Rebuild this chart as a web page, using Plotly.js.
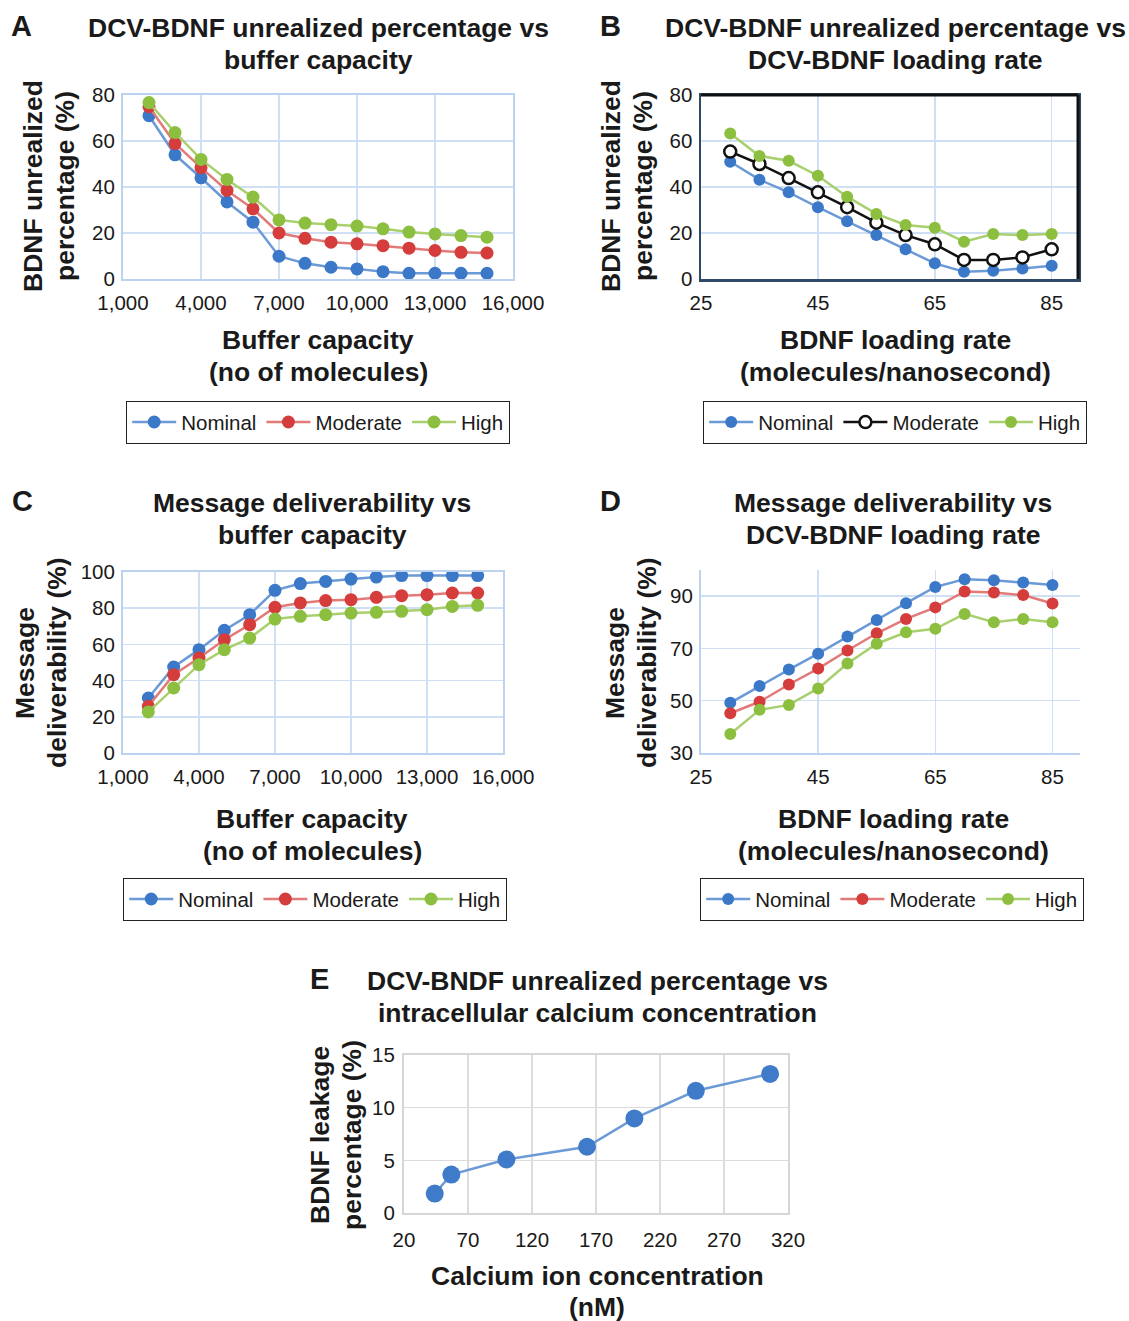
<!DOCTYPE html>
<html><head><meta charset="utf-8">
<script src="https://cdn.plot.ly/plotly-3.0.1.min.js"></script>
<style>html,body{margin:0;padding:0;background:#fff;}#chart{width:1129px;height:1321px;}</style>
</head><body><div id="chart"></div>
<script>
// ---- Data ----
const bufferCap = [2000,3000,4000,5000,6000,7000,8000,9000,10000,11000,12000,13000,14000,15000];
const aNominal  = [71,54,44,33.5,24.7,9.9,6.8,5.1,4.4,3.2,2.5,2.5,2.5,2.5];
const aModerate = [74.9,58.9,48.4,38.5,30.5,20,17.7,16,15.3,14.5,13.4,12.4,11.6,11.3];
const aHigh     = [76.7,63.7,52,43.3,35.6,25.7,24.3,23.6,23,21.8,20.4,19.6,18.9,18.2];

const loadRate  = [30,35,40,45,50,55,60,65,70,75,80,85];
const bNominal  = [51,43.2,37.7,31.2,25.1,19.1,12.9,6.8,3.2,3.6,4.6,5.8];
const bModerate = [55.4,50,43.9,37.7,31.2,24.5,19.1,15.1,8.3,8.3,9.4,12.9];
const bHigh     = [63.3,53.5,51.4,44.9,35.8,28.3,23.5,22.3,16.2,19.6,19.1,19.6];

const cNominal  = [30.4,47.5,57.1,67.8,76.4,89.9,93.6,94.8,96.1,97.2,98,98,98,98];
const cModerate = [25.8,43.3,52.5,62.6,70.9,80.5,82.9,84.2,84.7,86,86.9,87.5,88.4,88.4];
const cHigh     = [22.7,35.9,48.8,57.1,63.5,74,75.5,76.4,77.3,77.7,78.3,79.2,81,81.6];

const dNominal  = [49.2,55.6,61.9,68,74.6,80.9,87.3,93.5,96.5,96.1,95.2,94.3];
const dModerate = [45.2,49.6,56.2,62.3,69.2,75.8,81.3,85.7,91.8,91.4,90.4,87.2];
const dHigh     = [37.3,46.5,48.4,54.7,64.2,71.8,76.2,77.5,83.2,80,81.3,80];

const calcium   = [44,57,100,163,200,248,306];
const leakage   = [1.84,3.65,5.08,6.29,8.98,11.6,13.2];

const seriesNames = ['Nominal','Moderate','High'];

// ---- Styling ----
const W = 1129, H = 1321;
const FONT = 'Arial, "Liberation Sans", Helvetica, sans-serif';
const BLUE_M = '#3b78c8', BLUE_L = '#6b9ad6';
const RED_M = '#d43d3b', RED_L = '#e27a78';
const GREEN_M = '#8cbf40', GREEN_L = '#a8d06e';
const GRID_B = '#cfe0f4', LINE_B = '#bcd3ef';

function px(x){return x/W;}
function py(y){return 1 - y/H;}

function tr(x, y, name, xa, ya, mc, lc, leg, size, extra){
  const t = {x:x, y:y, name:name, type:'scatter', mode:'lines+markers',
    xaxis:xa, yaxis:ya, legend:leg,
    line:{color:lc, width:2.5},
    marker:{color:mc, size:size, line:{width:0}},
    showlegend: leg !== null};
  if (leg === null) { delete t.legend; t.showlegend = false; }
  return Object.assign(t, extra||{});
}

const traces = [
  tr(bufferCap, aNominal, seriesNames[0], 'x', 'y', BLUE_M, BLUE_L, 'legend', 13),
  tr(bufferCap, aModerate, seriesNames[1], 'x', 'y', RED_M, RED_L, 'legend', 13),
  tr(bufferCap, aHigh, seriesNames[2], 'x', 'y', GREEN_M, GREEN_L, 'legend', 13),

  tr(loadRate, bNominal, seriesNames[0], 'x2', 'y2', BLUE_M, BLUE_L, 'legend2', 12),
  tr(loadRate, bModerate, seriesNames[1], 'x2', 'y2', '#ffffff', '#111111', 'legend2', 12,
     {marker:{color:'#ffffff', size:12, line:{color:'#111111', width:2.5}}}),
  tr(loadRate, bHigh, seriesNames[2], 'x2', 'y2', GREEN_M, GREEN_L, 'legend2', 12),

  tr(bufferCap, cNominal, seriesNames[0], 'x3', 'y3', BLUE_M, BLUE_L, 'legend3', 13),
  tr(bufferCap, cModerate, seriesNames[1], 'x3', 'y3', RED_M, RED_L, 'legend3', 13),
  tr(bufferCap, cHigh, seriesNames[2], 'x3', 'y3', GREEN_M, GREEN_L, 'legend3', 13),

  tr(loadRate, dNominal, seriesNames[0], 'x4', 'y4', BLUE_M, BLUE_L, 'legend4', 12),
  tr(loadRate, dModerate, seriesNames[1], 'x4', 'y4', RED_M, RED_L, 'legend4', 12),
  tr(loadRate, dHigh, seriesNames[2], 'x4', 'y4', GREEN_M, GREEN_L, 'legend4', 12),

  tr(calcium, leakage, 'Leakage', 'x5', 'y5', '#3f7bc9', '#6b9ad6', null, 18)
];

const tickFont = {family:FONT, size:20.5, color:'#1a1a1a'};

function xax(d, range, dtick, opts){
  return Object.assign({domain:d, range:range, tick0:range[0], dtick:dtick, tickfont:tickFont,
    showgrid:true, gridcolor:GRID_B, gridwidth:1.5, zeroline:false,
    showline:true, linecolor:LINE_B, linewidth:2, ticks:'', ticklabelstandoff:4, fixedrange:true}, opts||{});
}
function yax(d, range, dtick, anchor, opts){
  return Object.assign({domain:d, range:range, tick0:range[0], dtick:dtick, tickfont:tickFont,
    showgrid:true, gridcolor:GRID_B, gridwidth:1.5, zeroline:false, anchor:anchor,
    showline:true, linecolor:LINE_B, linewidth:2, ticks:'', ticklabelstandoff:2, fixedrange:true}, opts||{});
}

const yA = [py(279), py(95)];
const yC = [py(753), py(572)];
const yD = [py(753), py(570)];
const yE = [py(1213), py(1055)];

const layout = {
  width:W, height:H, margin:{l:0,r:0,t:0,b:0},
  paper_bgcolor:'#ffffff', plot_bgcolor:'#ffffff',
  font:{family:FONT, color:'#1a1a1a'},
  xaxis: xax([px(123), px(513)], [1000,16000], 3000, {anchor:'y', tickformat:',d', mirror:true}),
  yaxis: yax(yA, [0,80], 20, 'x', {mirror:true}),
  xaxis2: xax([px(701), px(1078)], [25,89.5], 20, {anchor:'y2', mirror:true, linecolor:'#2f4a66', linewidth:2.5}),
  yaxis2: yax(yA, [0,80], 20, 'x2', {mirror:true, linecolor:'#2f4a66', linewidth:2.5}),
  xaxis3: xax([px(123), px(503)], [1000,16000], 3000, {anchor:'y3', tickformat:',d', mirror:true}),
  yaxis3: yax(yC, [0,100], 20, 'x3', {mirror:true}),
  xaxis4: xax([px(701), px(1080)], [25,89.7], 20, {anchor:'y4'}),
  yaxis4: yax(yD, [30,100], 20, 'x4'),
  xaxis5: xax([px(404), px(788)], [20,320], 50, {anchor:'y5', gridcolor:'#dcdcdc', linecolor:'#d6d6d6', mirror:true, ticklabelstandoff:7}),
  yaxis5: yax(yE, [0,15], 5, 'x5', {gridcolor:'#dcdcdc', linecolor:'#d6d6d6', mirror:true, ticklabelstandoff:3}),
  annotations: [],
  shapes: []
};

// Border for B: top and right darker black
layout.shapes.push({type:'line', xref:'paper', yref:'paper', x0:px(701), x1:px(1078), y0:py(95), y1:py(95), line:{color:'#111', width:3}});
layout.shapes.push({type:'line', xref:'paper', yref:'paper', x0:px(1078), x1:px(1078), y0:py(95), y1:py(279), line:{color:'#111', width:3}});

function legendDef(cx, top){
  return {orientation:'h', x:px(cx), xanchor:'center', y:py(top), yanchor:'top',
    bordercolor:'#222', borderwidth:1.2, bgcolor:'#ffffff',
    font:{family:FONT, size:20.5, color:'#1a1a1a'}, itemwidth:44, tracegroupgap:0};
}
layout.legend = legendDef(318, 401);
layout.legend2 = legendDef(895, 401);
layout.legend3 = legendDef(315, 878);
layout.legend4 = legendDef(892, 878);

function ann(text, x, y, size, opts){
  layout.annotations.push(Object.assign({text:text, x:px(x), y:py(y), xref:'paper', yref:'paper',
    showarrow:false, xanchor:'center', yanchor:'middle',
    font:{family:FONT, size:size, color:'#1a1a1a'}}, opts||{}));
}
const TS = 26.5;
// panel letters
ann('<b>A</b>', 21, 26, 29);
ann('<b>B</b>', 610, 26, 29);
ann('<b>C</b>', 22, 501, 29);
ann('<b>D</b>', 610, 501, 29);
ann('<b>E</b>', 319, 979, 29);
// two-line titles
function two(l1, l2, cx, y1, y2, rot){
  if (rot) {
    ann('<b>'+l1+'</b>', y1, cx, TS, {textangle:-90});
    ann('<b>'+l2+'</b>', y2, cx, TS, {textangle:-90});
  } else {
    ann('<b>'+l1+'</b>', cx, y1, TS);
    ann('<b>'+l2+'</b>', cx, y2, TS);
  }
}
two('DCV-BDNF unrealized percentage vs', 'buffer capacity', 318, 28, 60);
two('DCV-BDNF unrealized percentage vs', 'DCV-BDNF loading rate', 895, 28, 60);
two('Message deliverability vs', 'buffer capacity', 312, 503, 535);
two('Message deliverability vs', 'DCV-BDNF loading rate', 893, 503, 535);
two('DCV-BNDF unrealized percentage vs', 'intracellular calcium concentration', 597, 981, 1013);
// x axis titles
two('Buffer capacity', '(no of molecules)', 318, 340, 372);
two('BDNF loading rate', '(molecules/nanosecond)', 895, 340, 372);
two('Buffer capacity', '(no of molecules)', 312, 819, 851);
two('BDNF loading rate', '(molecules/nanosecond)', 893, 819, 851);
two('Calcium ion concentration', '(nM)', 597, 1276, 1307);
// y axis titles (rotated): args = line1, line2, centerY, x1, x2
two('BDNF unrealized', 'percentage (%)', 186, 33, 65, true);
two('BDNF unrealized', 'percentage (%)', 186, 611, 643, true);
two('Message', 'deliverability (%)', 663, 25, 57, true);
two('Message', 'deliverability (%)', 663, 615, 647, true);
two('BDNF leakage', 'percentage (%)', 1135, 320, 352, true);

Plotly.newPlot('chart', traces, layout, {staticPlot:true, displayModeBar:false});
</script>
</body></html>
